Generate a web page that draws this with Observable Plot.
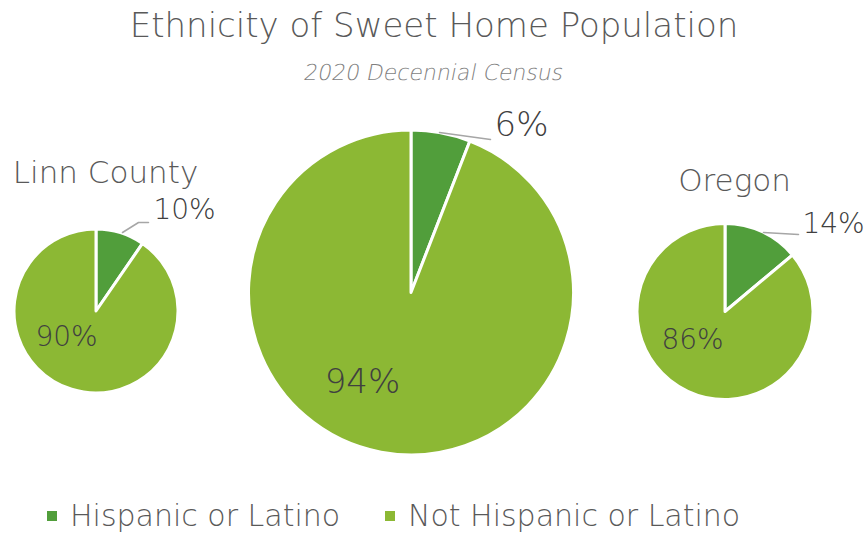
<!DOCTYPE html>
<html><head><meta charset="utf-8">
<script src="https://cdn.jsdelivr.net/npm/d3@7"></script>
<script src="https://cdn.jsdelivr.net/npm/@observablehq/plot@0.6"></script>
<style>
body{margin:0;background:#fff;font-family:"DejaVu Sans",sans-serif;font-weight:200;color:#595959;width:868px;height:536px;overflow:hidden}
#title{height:50px;line-height:50px;text-align:center;font-size:34px;white-space:nowrap}
#subtitle{height:46px;line-height:46px;text-align:center;font-size:22px;color:#7f7f7f;white-space:nowrap}
#subtitle span{display:inline-block;transform:skewX(-11deg)}
#chart svg{display:block}
#legend{height:40px;position:relative;font-size:30px;white-space:nowrap}
.item{position:absolute;top:0;height:40px;line-height:40px}
.sw{display:inline-block;width:10px;height:10px;margin-right:13px;vertical-align:middle;position:relative;top:-2px}
</style></head><body>
<div id="title"></div><div id="subtitle"><span></span></div><div id="chart"></div><div id="legend"></div>
<script>
// ---- data ----
const title = "Ethnicity of Sweet Home Population";
const subtitle = "2020 Decennial Census";
const regions = ["Linn County", "Sweet Home", "Oregon"];
const regionLabels = ["Linn County", "", "Oregon"];
const categories = ["Hispanic or Latino", "Not Hispanic or Latino"];
const hispanic = [9.6, 5.9, 13.9];
const notHispanic = [90.4, 94.1, 86.1];
const colors = ["#519e3b", "#8cb834"];

// ---- layout (pixels in the SVG) ----
const W = 868, H = 400;
const pieX = [96, 411, 725];
const pieY = [215, 196.5, 215.5];
const pieR = [80.5, 161, 86.5];
const nameOff = [[9, -138], null, [9, -130.5]];
const hispOff = [[88, -101.5], [110, -167.5], [108, -87.5]];
const notOff = [[-30, 25.5], [-49, 89.5], [-33, 28]];
const leaderOff = [
  [[26, -79], [42, -89], [52, -89]],
  [[28, -160.5], [79, -153.5]],
  [[38, -79.5], [73, -77.5]]
];

document.getElementById("title").textContent = title;
document.querySelector("#subtitle span").textContent = subtitle;

const pct = v => Math.round(v) + "%";

const names = regions.map((r, i) => nameOff[i] ? {text: regionLabels[i], x: pieX[i] + nameOff[i][0], y: pieY[i] + nameOff[i][1]} : null).filter(d => d);
const labels = regions.flatMap((r, i) => [
  {text: pct(hispanic[i]), x: pieX[i] + hispOff[i][0], y: pieY[i] + hispOff[i][1], big: i === 1},
  {text: pct(notHispanic[i]), x: pieX[i] + notOff[i][0], y: pieY[i] + notOff[i][1], big: i === 1}
]);
const leaders = regions.flatMap((r, i) => leaderOff[i].map(([dx, dy]) => ({g: r, x: pieX[i] + dx, y: pieY[i] + dy})));

function pies(index, scales) {
  const g = d3.create("svg:g");
  regions.forEach((reg, i) => {
    const cx = scales.x(pieX[i]), cy = scales.y(pieY[i]);
    const r = scales.x(pieX[i] + pieR[i]) - cx + 1.5;
    const arcs = d3.pie().sort(null)([hispanic[i], notHispanic[i]]);
    const arc = d3.arc().innerRadius(0).outerRadius(r);
    g.append("g").attr("transform", `translate(${cx},${cy})`)
      .selectAll("path").data(arcs).join("path")
      .attr("d", arc)
      .attr("fill", (d, j) => colors[j])
      .attr("stroke", "#fff").attr("stroke-width", 3).attr("stroke-linejoin", "round")
      .append("title").text((d, j) => `${reg} – ${categories[j]}: ${pct(d.data)}`);
  });
  return g.node();
}

const chart = Plot.plot({
  width: W, height: H, margin: 0,
  x: {domain: [0, W], range: [0, W], axis: null},
  y: {domain: [0, H], range: [0, H], axis: null},
  style: {fontFamily: "DejaVu Sans, sans-serif", fontWeight: 200, color: "#595959", background: "transparent"},
  marks: [
    pies,
    Plot.line(leaders, {x: "x", y: "y", z: "g", stroke: "#a6a6a6", strokeWidth: 1.5}),
    Plot.text(names, {x: "x", y: "y", text: "text", fill: "#595959", fontSize: 31, fontWeight: 200}),
    Plot.text(labels.filter(d => !d.big), {x: "x", y: "y", text: "text", fill: "#404040", fontSize: 28, fontWeight: 200}),
    Plot.text(labels.filter(d => d.big), {x: "x", y: "y", text: "text", fill: "#404040", fontSize: 34, fontWeight: 200})
  ]
});
document.getElementById("chart").appendChild(chart);

const legend = document.getElementById("legend");
const legendX = [47, 385];
categories.forEach((c, j) => {
  const it = document.createElement("div");
  it.className = "item";
  it.style.left = legendX[j] + "px";
  const sw = document.createElement("span");
  sw.className = "sw"; sw.style.background = colors[j];
  it.appendChild(sw);
  it.appendChild(document.createTextNode(c));
  legend.appendChild(it);
});
</script>
</body></html>
